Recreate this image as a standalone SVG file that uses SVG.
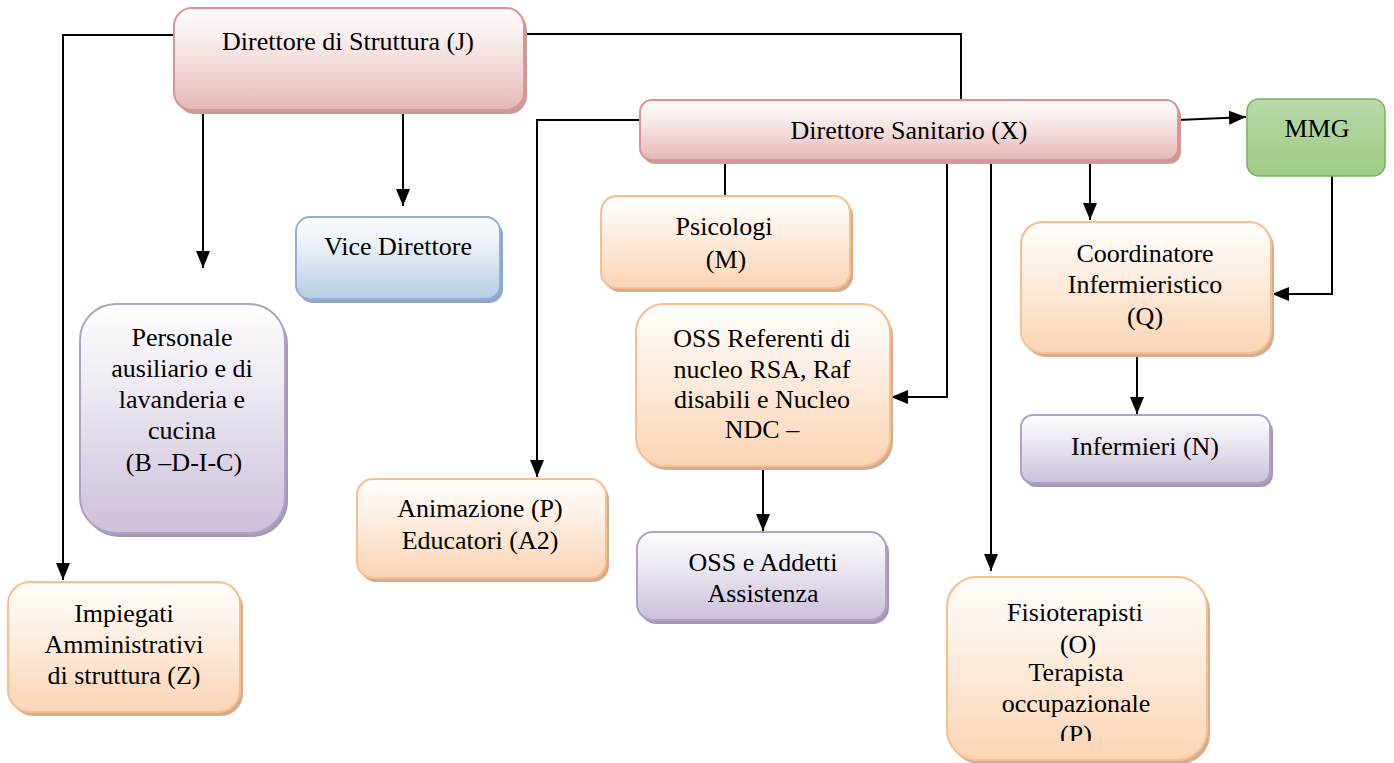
<svg xmlns="http://www.w3.org/2000/svg" width="1394" height="763" viewBox="0 0 1394 763">
<defs>
<linearGradient id="gPink" x1="0" y1="0" x2="0" y2="1"><stop offset="0" stop-color="#fefafa"/><stop offset="0.3" stop-color="#f9eded"/><stop offset="1" stop-color="#e5b8b7"/></linearGradient>
<linearGradient id="gOrange" x1="0" y1="0" x2="0" y2="1"><stop offset="0" stop-color="#fffdfb"/><stop offset="0.3" stop-color="#fef3ea"/><stop offset="1" stop-color="#fbd4b4"/></linearGradient>
<linearGradient id="gPurple" x1="0" y1="0" x2="0" y2="1"><stop offset="0" stop-color="#fefdff"/><stop offset="0.3" stop-color="#f1edf5"/><stop offset="1" stop-color="#ccc0da"/></linearGradient>
<linearGradient id="gBlue" x1="0" y1="0" x2="0" y2="1"><stop offset="0" stop-color="#fcfdfe"/><stop offset="0.3" stop-color="#eef3f9"/><stop offset="1" stop-color="#b8cce4"/></linearGradient>
<linearGradient id="gGreen" x1="0" y1="0" x2="0" y2="1"><stop offset="0" stop-color="#b8d8aa"/><stop offset="1" stop-color="#9fcc84"/></linearGradient>
<marker id="arr" markerUnits="userSpaceOnUse" markerWidth="18" markerHeight="16" viewBox="0 0 18 16" refX="17" refY="8" orient="auto"><path d="M0,1 L17,8 L0,15 z" fill="#000"/></marker>
<clipPath id="clipF"><rect x="940" y="570" width="280" height="171"/></clipPath>
<style>
.t{font-family:"Liberation Serif","Times New Roman",serif;font-size:26px;fill:#000;text-anchor:middle}
.pink{fill:url(#gPink);stroke:#d99594;stroke-width:2}
.orange{fill:url(#gOrange);stroke:#f9be8e;stroke-width:2}
.purple{fill:url(#gPurple);stroke:#b2a1c7;stroke-width:2}
.blue{fill:url(#gBlue);stroke:#8fb1da;stroke-width:2}
.green{fill:url(#gGreen);stroke:#7ab35b;stroke-width:1.5}
.shPink{fill:#c79c9b}
.shOrange{fill:#d2ad91}
.shPurple{fill:#a799b6}
.shBlue{fill:#90a5c0}
.c{fill:none;stroke:#000;stroke-width:2}
.ca{fill:none;stroke:#000;stroke-width:2;marker-end:url(#arr)}
</style>
</defs>
<rect width="1394" height="763" fill="#fff"/>

<g id="connectors">
<path class="ca" d="M174,35 H63 V580"/>
<path class="c" d="M524,34 H961 V100"/>
<path class="ca" d="M203,110 V268"/>
<path class="ca" d="M403,80 V206"/>
<path class="ca" d="M640,120 H537 V477"/>
<path class="c" d="M725,162 V196"/>
<path class="ca" d="M947,162 V397 H891"/>
<path class="ca" d="M991,162 V571"/>
<path class="ca" d="M1090,162 V220"/>
<path class="ca" d="M1178,120 L1246,117"/>
<path class="ca" d="M1332,176 V294 H1272"/>
<path class="ca" d="M1137,354 V414"/>
<path class="ca" d="M763,467 V531"/>
</g>

<g id="node-direttore-struttura">
<rect class="shPink" x="177" y="12" width="350" height="102" rx="18"/>
<rect class="pink" x="174" y="8" width="350" height="102" rx="18"/>
<text class="t" x="348" y="50">Direttore di Struttura (J)</text>
</g>

<g id="node-direttore-sanitario">
<rect class="shPink" x="643" y="104" width="538" height="60" rx="12"/>
<rect class="pink" x="640" y="100" width="538" height="60" rx="12"/>
<text class="t" x="909" y="139">Direttore Sanitario (X)</text>
</g>

<g id="node-mmg">
<rect class="green" x="1247" y="99" width="138" height="77" rx="12"/>
<text class="t" x="1317" y="137">MMG</text>
</g>

<g id="node-vice-direttore">
<rect class="shBlue" x="299" y="221" width="204" height="82" rx="14"/>
<rect class="blue" x="296" y="217" width="204" height="82" rx="14"/>
<text class="t" x="398" y="255">Vice Direttore</text>
</g>

<g id="node-psicologi">
<rect class="shOrange" x="604" y="200" width="249" height="92" rx="16"/>
<rect class="orange" x="601" y="196" width="249" height="92" rx="16"/>
<text class="t" x="724" y="235">Psicologi</text>
<text class="t" x="726" y="268">(M)</text>
</g>

<g id="node-coordinatore">
<rect class="shOrange" x="1024" y="226" width="250" height="131" rx="22"/>
<rect class="orange" x="1021" y="222" width="250" height="131" rx="22"/>
<text class="t" x="1145" y="262">Coordinatore</text>
<text class="t" x="1145" y="293">Infermieristico</text>
<text class="t" x="1145" y="325">(Q)</text>
</g>

<g id="node-personale">
<rect class="shPurple" x="83" y="308" width="205" height="229" rx="36"/>
<rect class="purple" x="80" y="304" width="205" height="229" rx="36"/>
<text class="t" x="182" y="346">Personale</text>
<text class="t" x="182" y="377">ausiliario e di</text>
<text class="t" x="182" y="408">lavanderia e</text>
<text class="t" x="182" y="439">cucina</text>
<text class="t" x="184" y="471">(B –D-I-C)</text>
</g>

<g id="node-oss-referenti">
<rect class="shOrange" x="639" y="308" width="254" height="162" rx="28"/>
<rect class="orange" x="636" y="304" width="254" height="162" rx="28"/>
<text class="t" x="762" y="347">OSS Referenti di</text>
<text class="t" x="762" y="378">nucleo RSA, Raf</text>
<text class="t" x="762" y="408">disabili e Nucleo</text>
<text class="t" x="762" y="438">NDC –</text>
</g>

<g id="node-infermieri">
<rect class="shPurple" x="1024" y="419" width="249" height="68" rx="12"/>
<rect class="purple" x="1021" y="415" width="249" height="68" rx="12"/>
<text class="t" x="1145" y="455">Infermieri (N)</text>
</g>

<g id="node-animazione">
<rect class="shOrange" x="360" y="483" width="249" height="99" rx="16"/>
<rect class="orange" x="357" y="479" width="249" height="99" rx="16"/>
<text class="t" x="480" y="517">Animazione (P)</text>
<text class="t" x="480" y="549">Educatori (A2)</text>
</g>

<g id="node-oss-addetti">
<rect class="shPurple" x="640" y="536" width="249" height="88" rx="16"/>
<rect class="purple" x="637" y="532" width="249" height="88" rx="16"/>
<text class="t" x="763" y="571">OSS e Addetti</text>
<text class="t" x="763" y="602">Assistenza</text>
</g>

<g id="node-impiegati">
<rect class="shOrange" x="11" y="586" width="232" height="130" rx="22"/>
<rect class="orange" x="8" y="582" width="232" height="130" rx="22"/>
<text class="t" x="124" y="622">Impiegati</text>
<text class="t" x="124" y="653">Amministrativi</text>
<text class="t" x="124" y="684">di struttura (Z)</text>
</g>

<g id="node-fisioterapisti">
<rect class="shOrange" x="950" y="581" width="260" height="183" rx="30"/>
<rect class="orange" x="947" y="577" width="260" height="183" rx="30"/>
<g clip-path="url(#clipF)">
<text class="t" x="1075" y="621">Fisioterapisti</text>
<text class="t" x="1078" y="653">(O)</text>
<text class="t" x="1076" y="681">Terapista</text>
<text class="t" x="1076" y="712">occupazionale</text>
<text class="t" x="1076" y="743">(P)</text>
</g>
</g>
</svg>
